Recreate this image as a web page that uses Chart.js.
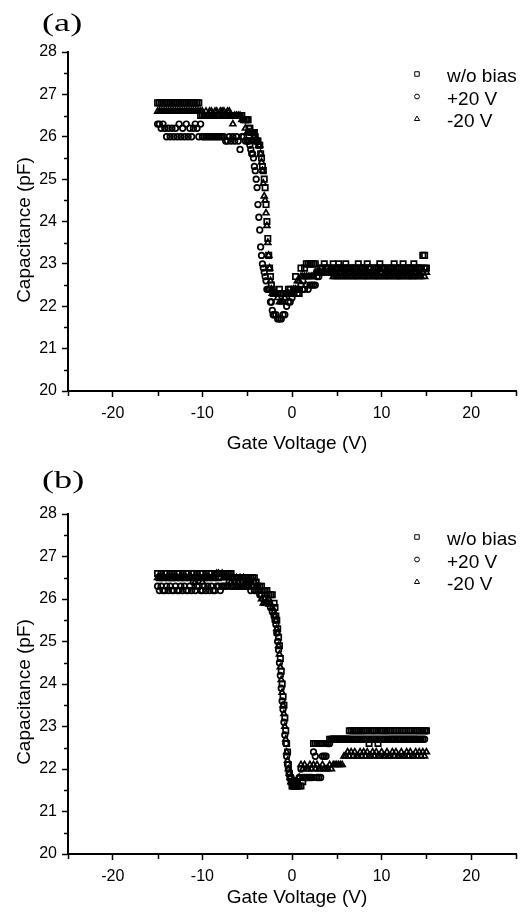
<!DOCTYPE html>
<html>
<head>
<meta charset="utf-8">
<script src="https://cdn.jsdelivr.net/npm/chart.js@4.4.1/dist/chart.umd.min.js"></script>
<style>
  html, body { margin: 0; padding: 0; background: #fff; }
  body { width: 532px; height: 913px; position: relative; overflow: hidden; }
  .panel { position: absolute; left: 0; width: 532px; }
  .panel canvas { display: block; }
  #panelA { top: 0; height: 456px; }
  #panelB { top: 456px; height: 457px; }
  .tag {
    position: absolute;
    font-family: "Liberation Serif", "Times New Roman", serif;
    font-size: 25px;
    line-height: 1;
    color: #000;
    transform: scaleX(1.45);
    transform-origin: left top;
  }
</style>
</head>
<body>
<div class="panel" id="panelA"><canvas id="chartA" width="532" height="456"></canvas></div>
<div class="panel" id="panelB"><canvas id="chartB" width="532" height="457"></canvas></div>
<div class="tag" style="left:42px; top:10px;">(a)</div>
<div class="tag" style="left:42px; top:467px;">(b)</div>

<script>
// =================================================================
// DATA
// =================================================================
const seriesNames = ['w/o bias', '+20 V', '-20 V'];
const xTicks = [-20, -10, 0, 10, 20];
const xMinor = [-25, -15, -5, 5, 15, 25];
const yTicks = [20, 21, 22, 23, 24, 25, 26, 27, 28];
const yMinor = [20.5, 21.5, 22.5, 23.5, 24.5, 25.5, 26.5, 27.5];

// panel (a): gate voltage sweep (V)
const gateVA = [
  -15, -14.8, -14.6, -14.4, -14.2, -14, -13.8, -13.6, -13.4, -13.2,
  -13, -12.8, -12.6, -12.4, -12.2, -12, -11.8, -11.6, -11.4, -11.2,
  -11, -10.8, -10.6, -10.4, -10.2, -10, -9.8, -9.6, -9.4, -9.2,
  -9, -8.8, -8.6, -8.4, -8.2, -8, -7.8, -7.6, -7.4, -7.2,
  -7, -6.8, -6.6, -6.4, -6.2, -6, -5.8, -5.6, -5.4, -5.2,
  -5, -4.9, -4.8, -4.7, -4.6, -4.5, -4.4, -4.3, -4.2, -4.1,
  -4, -3.9, -3.8, -3.7, -3.6, -3.5, -3.4, -3.3, -3.2, -3.1,
  -3, -2.9, -2.8, -2.7, -2.6, -2.5, -2.4, -2.3, -2.2, -2.1,
  -2, -1.8, -1.6, -1.4, -1.2, -1, -0.8, -0.6, -0.4, -0.2,
  0, 0.2, 0.4, 0.6, 0.8, 1, 1.2, 1.4, 1.6, 1.8,
  2, 2.2, 2.4, 2.6, 2.8, 3, 3.2, 3.4, 3.6, 3.8,
  4, 4.2, 4.4, 4.6, 4.8, 5, 5.2, 5.4, 5.6, 5.8,
  6, 6.2, 6.4, 6.6, 6.8, 7, 7.2, 7.4, 7.6, 7.8,
  8, 8.2, 8.4, 8.6, 8.8, 9, 9.2, 9.4, 9.6, 9.8,
  10, 10.2, 10.4, 10.6, 10.8, 11, 11.2, 11.4, 11.6, 11.8,
  12, 12.2, 12.4, 12.6, 12.8, 13, 13.2, 13.4, 13.6, 13.8,
  14, 14.2, 14.4, 14.6, 14.8, 15
];

// capacitance (pF), panel (a)
const capANoBias = [
  26.8, 26.8, 26.8, 26.8, 26.8, 26.8, 26.8, 26.8, 26.8, 26.8,
  26.8, 26.8, 26.8, 26.8, 26.8, 26.8, 26.8, 26.8, 26.8, 26.8,
  26.8, 26.8, 26.8, 26.8, 26.5, 26.5, 26.5, 26.5, 26.5, 26.5,
  26.5, 26.5, 26.5, 26.5, 26.5, 26.5, 26.5, 26.5, 26.5, 26.5,
  26.5, 26.5, 26.5, 26.5, 26.5, 26.5, 26.5, 26.5, 26.4, 26.4,
  26.4, 26.4, 26.2, 26.2, 26.1, 26.1, 26.1, 26.1, 26.1, 26.0,
  25.9, 25.9, 25.9, 25.8, 25.8, 25.6, 25.5, 25.3, 25.2, 25.0,
  24.8, 24.4, 24.0, 23.6, 23.2, 22.9, 22.7, 22.5, 22.4, 22.3,
  22.3, 22.3, 22.3, 22.4, 22.3, 22.3, 22.3, 22.3, 22.4, 22.4,
  22.3, 22.4, 22.7, 22.3, 22.3, 22.9, 22.6, 22.9, 23.0, 23.0,
  23.0, 23.0, 23.0, 23.0, 22.8, 22.8, 22.9, 22.9, 23.0, 22.9,
  22.9, 22.8, 22.9, 23.0, 22.9, 22.9, 23.0, 22.9, 22.9, 22.9,
  23.0, 22.9, 22.9, 22.9, 22.8, 22.9, 22.9, 23.0, 22.9, 22.9,
  22.9, 22.9, 23.0, 22.9, 22.9, 22.8, 22.9, 22.9, 22.9, 23.0,
  22.9, 22.9, 22.9, 22.8, 22.9, 22.9, 22.9, 23.0, 22.9, 22.9,
  22.9, 22.9, 23.0, 22.9, 22.9, 22.9, 22.9, 22.9, 23.0, 22.9,
  22.9, 22.9, 22.9, 23.2, 23.2, 22.9
];
const capAPos20 = [
  26.3, 26.3, 26.2, 26.3, 26.2, 26.0, 26.2, 26.0, 26.2, 26.0,
  26.2, 26.0, 26.3, 26.0, 26.2, 26.0, 26.3, 26.0, 26.2, 26.0,
  26.2, 26.3, 26.2, 26.0, 26.3, 26.0, 26.0, 26.0, 26.0, 26.0,
  26.0, 26.0, 26.0, 26.0, 26.0, 26.0, 26.0, 26.0, 25.9, 25.9,
  26.0, 25.9, 26.0, 25.9, 26.0, 25.9, 25.7, 26.0, 26.0, 25.9,
  25.9, 25.9, 25.9, 25.8, 25.7, 25.6, 25.6, 25.5, 25.3, 25.2,
  25.0, 24.8, 24.4, 24.1, 23.8, 23.4, 23.2, 23.0, 22.9, 22.8,
  22.7, 22.6, 22.4, 22.4, 22.4, 22.4, 22.1, 22.1, 21.9, 21.8,
  21.8, 21.8, 21.7, 21.7, 21.7, 21.8, 21.8, 22.0, 22.1, 22.1,
  22.2, 22.3, 22.4, 22.4, 22.4, 22.5, 22.4, 22.4, 22.5, 22.4,
  22.5, 22.5, 22.5, 22.5, 22.7, 22.7, 22.8, 22.8, 22.8, 22.9,
  22.8, 22.8, 22.9, 22.8, 22.8, 22.8, 22.9, 22.8, 22.8, 22.8,
  22.9, 22.8, 22.8, 22.8, 22.9, 22.8, 22.8, 22.8, 22.8, 22.9,
  22.8, 22.8, 22.8, 22.9, 22.8, 22.8, 22.8, 22.8, 22.9, 22.8,
  22.8, 22.9, 22.8, 22.8, 22.8, 22.8, 22.9, 22.8, 22.8, 22.8,
  22.8, 22.8, 22.9, 22.8, 22.8, 22.8, 22.8, 22.9, 22.8, 22.8,
  22.8, 22.8, 22.9, 22.8, 22.9, 22.9
];
const capANeg20 = [
  26.6, 26.6, 26.6, 26.6, 26.6, 26.6, 26.6, 26.6, 26.6, 26.6,
  26.6, 26.6, 26.6, 26.6, 26.6, 26.6, 26.6, 26.6, 26.6, 26.6,
  26.6, 26.6, 26.6, 26.6, 26.6, 26.6, 26.5, 26.6, 26.5, 26.6,
  26.6, 26.5, 26.6, 26.6, 26.5, 26.6, 26.6, 26.6, 26.5, 26.6,
  26.6, 26.5, 26.3, 26.5, 26.5, 26.5, 26.5, 26.4, 26.4, 26.2,
  26.1, 26.1, 26.1, 26.1, 26.1, 26.1, 26.1, 26.0, 26.0, 25.9,
  25.9, 25.9, 25.9, 25.8, 25.8, 25.6, 25.4, 25.2, 24.9, 24.6,
  24.5, 24.2, 23.9, 23.5, 23.2, 22.9, 22.6, 22.4, 22.3, 22.3,
  22.3, 22.3, 22.2, 22.1, 22.1, 22.1, 22.2, 22.3, 22.3, 22.3,
  22.3, 22.4, 22.4, 22.6, 22.6, 22.7, 22.7, 22.7, 22.7, 22.7,
  22.7, 22.7, 22.7, 22.8, 22.8, 22.8, 22.8, 22.8, 22.8, 22.8,
  22.8, 22.8, 22.8, 22.7, 22.7, 22.7, 22.7, 22.8, 22.7, 22.7,
  22.7, 22.7, 22.8, 22.7, 22.7, 22.7, 22.7, 22.7, 22.8, 22.7,
  22.7, 22.7, 22.7, 22.7, 22.8, 22.7, 22.7, 22.7, 22.7, 22.7,
  22.8, 22.7, 22.7, 22.7, 22.7, 22.7, 22.8, 22.7, 22.7, 22.7,
  22.7, 22.7, 22.7, 22.8, 22.7, 22.7, 22.7, 22.7, 22.7, 22.8,
  22.7, 22.7, 22.7, 22.8, 22.7, 22.8
];

// panel (b): gate voltage sweep (V)
const gateVB = [
  -15, -14.8, -14.6, -14.4, -14.2, -14, -13.8, -13.6, -13.4, -13.2,
  -13, -12.8, -12.6, -12.4, -12.2, -12, -11.8, -11.6, -11.4, -11.2,
  -11, -10.8, -10.6, -10.4, -10.2, -10, -9.8, -9.6, -9.4, -9.2,
  -9, -8.8, -8.6, -8.4, -8.2, -8, -7.8, -7.6, -7.4, -7.2,
  -7, -6.8, -6.6, -6.4, -6.2, -6, -5.8, -5.6, -5.4, -5.2,
  -5, -4.8, -4.6, -4.4, -4.2, -4, -3.8, -3.6, -3.4, -3.2,
  -3, -2.8, -2.6, -2.4, -2.2, -2, -1.9, -1.8, -1.7, -1.6,
  -1.5, -1.4, -1.3, -1.2, -1.1, -1, -0.9, -0.8, -0.7, -0.6,
  -0.5, -0.4, -0.3, -0.2, -0.1, 0, 0.1, 0.2, 0.3, 0.4,
  0.5, 0.6, 0.8, 1, 1.2, 1.4, 1.6, 1.8, 2, 2.2,
  2.4, 2.6, 2.8, 3, 3.2, 3.4, 3.6, 3.8, 4, 4.2,
  4.4, 4.6, 4.8, 5, 5.2, 5.4, 5.6, 5.8, 6, 6.2,
  6.4, 6.6, 6.8, 7, 7.2, 7.4, 7.6, 7.8, 8, 8.2,
  8.4, 8.6, 8.8, 9, 9.2, 9.4, 9.6, 9.8, 10, 10.2,
  10.4, 10.6, 10.8, 11, 11.2, 11.4, 11.6, 11.8, 12, 12.2,
  12.4, 12.6, 12.8, 13, 13.2, 13.4, 13.6, 13.8, 14, 14.2,
  14.4, 14.6, 14.8, 15
];

// capacitance (pF), panel (b)
const capBNoBias = [
  26.6, 26.5, 26.6, 26.5, 26.6, 26.6, 26.5, 26.6, 26.5, 26.6,
  26.5, 26.6, 26.6, 26.5, 26.6, 26.5, 26.6, 26.6, 26.5, 26.6,
  26.6, 26.5, 26.6, 26.5, 26.6, 26.6, 26.5, 26.6, 26.5, 26.6,
  26.6, 26.5, 26.6, 26.6, 26.5, 26.6, 26.6, 26.6, 26.6, 26.6,
  26.6, 26.6, 26.5, 26.5, 26.5, 26.5, 26.5, 26.5, 26.5, 26.5,
  26.5, 26.5, 26.5, 26.5, 26.5, 26.4, 26.3, 26.3, 26.3, 26.2,
  26.2, 26.2, 26.1, 26.1, 26.1, 25.9, 25.8, 25.6, 25.5, 25.3,
  25.1, 24.9, 24.6, 24.3, 24.0, 23.7, 23.5, 23.2, 22.9, 22.6,
  22.4, 22.1, 21.9, 21.8, 21.7, 21.6, 21.6, 21.6, 21.6, 21.6,
  21.6, 21.6, 21.6, 21.6, 21.7, 21.8, 21.8, 21.8, 21.8, 21.8,
  22.6, 22.6, 22.6, 22.6, 22.6, 22.6, 22.6, 22.6, 22.6, 22.7,
  22.7, 22.7, 22.7, 22.7, 22.7, 22.7, 22.7, 22.7, 22.7, 22.7,
  22.9, 22.9, 22.9, 22.9, 22.9, 22.9, 22.9, 22.9, 22.9, 22.9,
  22.9, 22.6, 22.9, 22.9, 22.9, 22.9, 22.6, 22.9, 22.9, 22.9,
  22.9, 22.9, 22.9, 22.9, 22.7, 22.9, 22.9, 22.9, 22.7, 22.9,
  22.9, 22.9, 22.7, 22.9, 22.9, 22.9, 22.7, 22.9, 22.9, 22.9,
  22.9, 22.9, 22.9, 22.9
];
const capBPos20 = [
  26.3, 26.2, 26.3, 26.2, 26.2, 26.3, 26.2, 26.3, 26.2, 26.2,
  26.3, 26.2, 26.2, 26.3, 26.2, 26.3, 26.2, 26.2, 26.3, 26.2,
  26.4, 26.2, 26.3, 26.3, 26.2, 26.2, 26.3, 26.2, 26.3, 26.2,
  26.3, 26.2, 26.2, 26.3, 26.3, 26.2, 26.3, 26.3, 26.3, 26.3,
  26.4, 26.3, 26.3, 26.3, 26.3, 26.3, 26.3, 26.3, 26.3, 26.3,
  26.3, 26.3, 26.2, 26.3, 26.2, 26.2, 26.2, 26.1, 26.1, 26.0,
  26.0, 25.9, 25.9, 25.8, 25.7, 25.6, 25.5, 25.4, 25.2, 25.0,
  24.8, 24.5, 24.2, 23.9, 23.6, 23.4, 23.1, 22.8, 22.6, 22.3,
  22.1, 22.0, 21.9, 21.8, 21.8, 21.7, 21.7, 21.7, 21.7, 21.7,
  21.7, 21.7, 21.8, 22.0, 21.8, 21.8, 21.8, 21.8, 21.8, 21.8,
  22.4, 22.3, 21.8, 21.8, 21.8, 22.3, 22.3, 22.3, 22.6, 22.6,
  22.7, 22.7, 22.7, 22.7, 22.7, 22.7, 22.7, 22.7, 22.7, 22.7,
  22.7, 22.7, 22.7, 22.7, 22.7, 22.7, 22.7, 22.7, 22.7, 22.7,
  22.7, 22.7, 22.7, 22.7, 22.7, 22.7, 22.7, 22.7, 22.7, 22.7,
  22.7, 22.7, 22.7, 22.7, 22.7, 22.7, 22.7, 22.7, 22.7, 22.7,
  22.7, 22.7, 22.7, 22.7, 22.7, 22.7, 22.7, 22.7, 22.7, 22.7,
  22.7, 22.7, 22.7, 22.9
];
const capBNeg20 = [
  26.5, 26.5, 26.5, 26.5, 26.5, 26.5, 26.5, 26.5, 26.5, 26.5,
  26.5, 26.5, 26.5, 26.5, 26.5, 26.5, 26.5, 26.5, 26.5, 26.5,
  26.5, 26.4, 26.5, 26.5, 26.5, 26.4, 26.5, 26.5, 26.5, 26.5,
  26.5, 26.5, 26.5, 26.6, 26.6, 26.5, 26.6, 26.5, 26.5, 26.5,
  26.5, 26.4, 26.5, 26.4, 26.5, 26.4, 26.5, 26.4, 26.5, 26.4,
  26.4, 26.4, 26.4, 26.3, 26.4, 26.3, 26.3, 26.2, 26.0, 25.9,
  25.9, 25.9, 26.0, 25.9, 25.8, 25.7, 25.6, 25.5, 25.3, 25.2,
  24.9, 24.7, 24.4, 24.1, 23.8, 23.5, 23.3, 23.0, 22.7, 22.4,
  22.2, 22.0, 21.9, 21.8, 21.7, 21.7, 21.7, 21.7, 21.7, 21.7,
  21.7, 21.7, 21.8, 22.1, 22.0, 22.1, 22.0, 22.0, 22.1, 22.0,
  22.1, 22.0, 22.1, 22.0, 22.0, 22.1, 22.0, 22.0, 22.0, 22.1,
  22.0, 22.1, 22.1, 22.1, 22.1, 22.1, 22.1, 22.3, 22.3, 22.4,
  22.3, 22.4, 22.3, 22.4, 22.3, 22.3, 22.4, 22.3, 22.4, 22.3,
  22.4, 22.3, 22.3, 22.4, 22.3, 22.4, 22.3, 22.3, 22.4, 22.3,
  22.3, 22.4, 22.3, 22.3, 22.4, 22.3, 22.4, 22.3, 22.3, 22.4,
  22.3, 22.3, 22.4, 22.3, 22.4, 22.3, 22.3, 22.4, 22.3, 22.4,
  22.3, 22.4, 22.3, 22.4
];

// =================================================================
// STYLE
// =================================================================
const markerStyles = ['rect', 'circle', 'triangle'];
const markerRadius = [3.8, 2.8, 3.4];
const legendRadius = [3.2, 2.4, 3.0];
const sansFont = '"Liberation Sans", Arial, sans-serif';

// =================================================================
// PLUGINS
// =================================================================

// short minor ticks between the labelled ones
const minorTicks = {
  id: 'minorTicks',
  afterDraw(chart) {
    const { ctx, chartArea, scales } = chart;
    ctx.save();
    ctx.strokeStyle = '#000';
    ctx.lineWidth = 1.5;
    ctx.beginPath();
    yMinor.forEach(v => {
      const py = Math.round(scales.y.getPixelForValue(v)) + 0.5;
      ctx.moveTo(chartArea.left - 4, py);
      ctx.lineTo(chartArea.left, py);
    });
    xMinor.forEach(v => {
      const px = Math.round(scales.x.getPixelForValue(v)) + 0.5;
      ctx.moveTo(px, chartArea.bottom);
      ctx.lineTo(px, chartArea.bottom + 5);
    });
    ctx.stroke();
    ctx.restore();
  }
};

// axis titles + legend inside the plot
const panelText = {
  id: 'panelText',
  afterDraw(chart, args, opts) {
    const { ctx } = chart;
    ctx.save();
    ctx.fillStyle = '#000';
    ctx.font = '19px ' + sansFont;
    ctx.textAlign = 'center';
    ctx.textBaseline = 'middle';
    ctx.fillText('Gate Voltage (V)', opts.xTitle[0], opts.xTitle[1]);

    ctx.save();
    ctx.translate(opts.yTitle[0], opts.yTitle[1]);
    ctx.rotate(-Math.PI / 2);
    ctx.fillText('Capacitance (pF)', 0, 0);
    ctx.restore();

    // legend: hollow markers, then label
    ctx.textAlign = 'left';
    chart.data.datasets.forEach((ds, k) => {
      const rowY = opts.legendTop + k * opts.legendGap;
      ctx.save();
      ctx.fillStyle = 'rgba(0,0,0,0)';
      ctx.strokeStyle = '#000';
      ctx.lineWidth = 1;
      Chart.helpers.drawPoint(ctx, {
        pointStyle: ds.pointStyle,
        radius: legendRadius[k],
        rotation: 0,
        borderWidth: 1
      }, opts.legendX, rowY - 3);
      ctx.restore();
      ctx.fillText(ds.label, opts.legendX + 30, rowY);
    });
    ctx.restore();
  }
};

// =================================================================
// CHART BUILDER
// =================================================================
function buildChart(canvasId, gateV, caps, box) {
  const datasets = caps.map((c, k) => ({
    label: seriesNames[k],
    data: gateV.map((v, i) => ({ x: v, y: c[i] })),
    pointStyle: markerStyles[k],
    pointRadius: markerRadius[k],
    pointBorderWidth: 1.7,
    pointBorderColor: '#000',
    pointBackgroundColor: 'rgba(0,0,0,0)',
    borderColor: '#000',
    backgroundColor: 'rgba(0,0,0,0)',
    showLine: false
  }));

  const tickFont = { family: sansFont, size: 16 };

  return new Chart(document.getElementById(canvasId), {
    type: 'scatter',
    data: { datasets },
    options: {
      responsive: false,
      animation: false,
      devicePixelRatio: 1,
      layout: { padding: { top: box.top, right: 16, left: 0, bottom: 0 } },
      plugins: {
        legend: { display: false },
        tooltip: { enabled: false },
        panelText: {
          xTitle: [297, box.xTitleY],
          yTitle: [25, box.yTitleY],
          legendX: 417,
          legendTop: box.legendTop,
          legendGap: 22.5
        }
      },
      scales: {
        x: {
          type: 'linear',
          min: -25,
          max: 25,
          afterBuildTicks: s => { s.ticks = xTicks.map(v => ({ value: v })); },
          afterFit: s => { s.height = box.xHeight; },
          ticks: { color: '#000', font: tickFont, padding: 7, maxRotation: 0 },
          grid: { drawOnChartArea: false, drawTicks: true, tickLength: 6, tickColor: '#000', tickWidth: 1.5 },
          border: { display: true, color: '#000', width: 2 }
        },
        y: {
          type: 'linear',
          min: 20,
          max: 28,
          afterBuildTicks: s => { s.ticks = yTicks.map(v => ({ value: v })); },
          afterFit: s => { s.width = 68; },
          ticks: { color: '#000', font: tickFont, padding: 5 },
          grid: { drawOnChartArea: false, drawTicks: true, tickLength: 6, tickColor: '#000', tickWidth: 1.5 },
          border: { display: true, color: '#000', width: 2 }
        }
      }
    },
    plugins: [minorTicks, panelText]
  });
}

// =================================================================
// INIT
// =================================================================
buildChart('chartA', gateVA, [capANoBias, capAPos20, capANeg20], {
  top: 52, xHeight: 65, xTitleY: 444, yTitleY: 230, legendTop: 77
});
buildChart('chartB', gateVB, [capBNoBias, capBPos20, capBNeg20], {
  top: 58, xHeight: 59, xTitleY: 442, yTitleY: 236, legendTop: 84
});
</script>
</body>
</html>
